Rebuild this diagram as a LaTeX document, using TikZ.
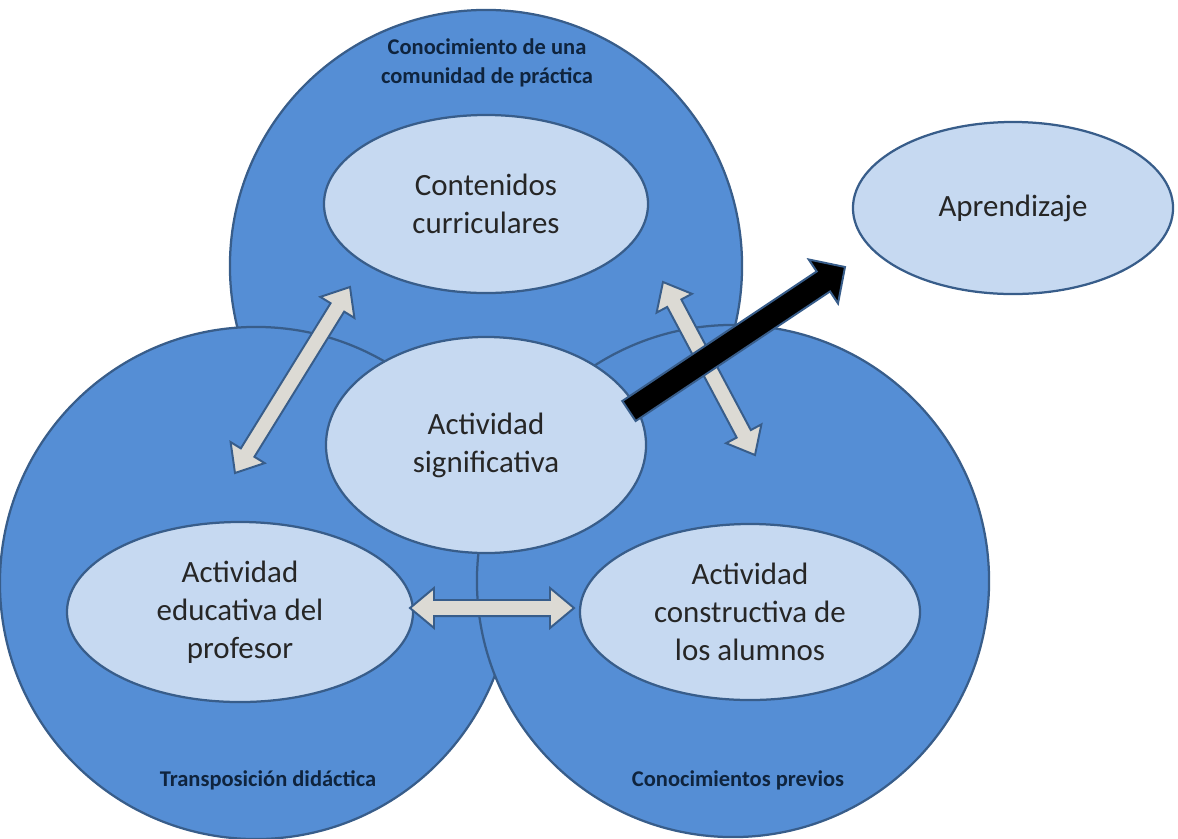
\documentclass[tikz,border=0pt]{standalone}
\usepackage{fontspec}
\setmainfont{Carlito}
\usepackage{xcolor}
\usepackage{tikz}
\usetikzlibrary{shapes,calc}

\definecolor{ringblue}{HTML}{558ED5}
\definecolor{edgeblue}{HTML}{385D8A}
\definecolor{paleblue}{HTML}{C6D9F1}
\definecolor{navytext}{HTML}{0F243E}
\definecolor{arrowgray}{HTML}{DCDAD4}

% block arrow with two heads, between two named points
\newcommand{\dblarrow}[2]{%
  \coordinate (ha) at ($(#1)!0.6cm!(#2)$);
  \coordinate (hb) at ($(#2)!0.6cm!(#1)$);
  \filldraw[gray arrow] (#1) -- ($(ha)!0.5cm!90:(#2)$) -- ($(ha)!0.2cm!90:(#2)$)
    -- ($(hb)!0.2cm!-90:(#1)$) -- ($(hb)!0.5cm!-90:(#1)$) -- (#2)
    -- ($(hb)!0.5cm!90:(#1)$) -- ($(hb)!0.2cm!90:(#1)$)
    -- ($(ha)!0.2cm!-90:(#2)$) -- ($(ha)!0.5cm!-90:(#2)$) -- cycle;
}

\begin{document}
\begin{tikzpicture}
  [x=0.025cm,y=-0.025cm,
   big circle/.style={circle,draw=edgeblue,fill=ringblue,line width=1.6pt,minimum size=12.8cm,inner sep=0pt},
   main node/.style={ellipse,draw=edgeblue,fill=paleblue,line width=1.6pt,inner sep=0pt,align=center,text=black!85,font=\fontsize{22}{27}\selectfont},
   ring label/.style={text=navytext,align=center,font=\bfseries\fontsize{16}{20.5}\selectfont},
   gray arrow/.style={draw=edgeblue,fill=arrowgray,line width=1.4pt},
   black arrow/.style={draw=edgeblue,fill=black,line width=1.4pt}]
  \useasboundingbox (0,0) rectangle (1178,838);

  \node[big circle] (c1) at (486,266) {};
  \node[big circle] (c2) at (256,583) {};
  \node[big circle] (c3) at (733,581) {};
  \node[ring label] (l1) at (487,63) {Conocimiento de una\\comunidad de práctica};
  \node[ring label] (l2) at (268,780) {Transposición didáctica};
  \node[ring label] (l3) at (738,780) {Conocimientos previos};

  \node[main node,minimum width=8.1cm,minimum height=4.45cm] (1) at (486,204) {Contenidos\\curriculares};
  \node[main node,minimum width=8cm,minimum height=5.4cm] (2) at (486,445) {Actividad\\significativa};
  \node[main node,minimum width=8.65cm,minimum height=4.5cm] (3) at (240,612) {Actividad\\educativa del\\profesor};
  \node[main node,minimum width=8.5cm,minimum height=4.4cm] (4) at (750,612) {Actividad\\constructiva de\\los alumnos};
  \node[main node,minimum width=8cm,minimum height=4.3cm] (5) at (1013,208) {Aprendizaje};

  \coordinate (a1) at (350,287);
  \coordinate (a2) at (235,473);
  \coordinate (b1) at (663,282);
  \coordinate (b2) at (755,455);
  \coordinate (d1) at (410,608);
  \coordinate (d2) at (574,608);
  \dblarrow{a1}{a2}
  \dblarrow{b1}{b2}
  \dblarrow{d1}{d2}

  % thick arrow out to the learning node
  \coordinate (t) at (629,411);
  \coordinate (p) at (845,267);
  \coordinate (hp) at ($(p)!0.65cm!(t)$);
  \filldraw[black arrow] ($(t)!0.3cm!90:(p)$) -- ($(hp)!0.3cm!-90:(t)$) -- ($(hp)!0.66cm!-90:(t)$) -- (p)
    -- ($(hp)!0.66cm!90:(t)$) -- ($(hp)!0.3cm!90:(t)$) -- ($(t)!0.3cm!-90:(p)$) -- cycle;
\end{tikzpicture}
\end{document}
